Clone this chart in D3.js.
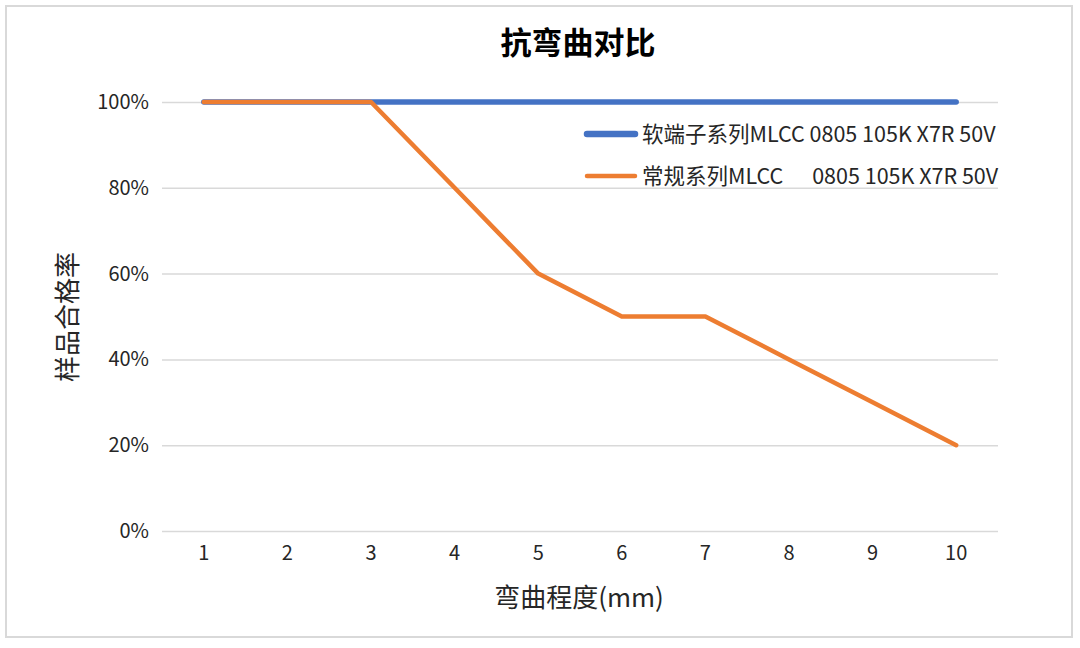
<!DOCTYPE html>
<html>
<head>
<meta charset="utf-8">
<script src="https://cdn.jsdelivr.net/npm/d3@7/dist/d3.min.js"></script>
<style>
    body { margin: 0; background: #fff; }
    text { font-family: "Noto Sans CJK SC", "Noto Sans", sans-serif; fill: #262626; }
</style>
</head>
<body>
<div id="chart"></div>
<script>
// bending depth (mm)
var categories = [1, 2, 3, 4, 5, 6, 7, 8, 9, 10];
var softTermValues = [100, 100, 100, 100, 100, 100, 100, 100, 100, 100];
var normalValues = [100, 100, 100, 80, 60, 50, 50, 40, 30, 20];
var yTicks = [0, 20, 40, 60, 80, 100];
var seriesNames = ["软端子系列MLCC 0805 105K X7R 50V", "常规系列MLCC      0805 105K X7R 50V"];
var seriesColors = ["#4472c4", "#ed7d31"];

function drawChart() {
    "use strict";
    var width = 1080;
    var height = 648;
    var margin = {left: 162, right: 82, top: 102, bottom: 117};

    var svg = d3.select("#chart")
        .append("svg")
        .attr("width", width)
        .attr("height", height);

    // outer frame
    svg.append("rect")
        .attr("x", 6).attr("y", 6)
        .attr("width", 1066).attr("height", 631)
        .attr("fill", "#fff")
        .attr("stroke", "#d9d9d9")
        .attr("stroke-width", 2);

    var x = d3.scaleBand()
        .domain(categories)
        .range([margin.left, width - margin.right])
        .padding(0);
    var y = d3.scaleLinear()
        .domain([0, 100])
        .range([height - margin.bottom, margin.top]);

    // gridlines + y labels
    var yAxis = d3.axisLeft(y)
        .tickValues(yTicks)
        .tickSize(-(width - margin.left - margin.right))
        .tickPadding(13)
        .tickFormat(function(d) { return d + "%"; });
    var gy = svg.append("g")
        .attr("transform", "translate(" + margin.left + ",0)")
        .call(yAxis);
    gy.select(".domain").remove();
    gy.selectAll(".tick line").attr("stroke", "#d9d9d9").attr("stroke-width", 1.5);
    gy.selectAll(".tick text").style("font-size", "20px");

    // x labels
    var xAxis = d3.axisBottom(x).tickSize(0).tickPadding(15);
    var gx = svg.append("g")
        .attr("transform", "translate(0," + (height - margin.bottom) + ")")
        .call(xAxis);
    gx.select(".domain").remove();
    gx.selectAll(".tick text").style("font-size", "20px");

    var line = d3.line()
        .x(function(d, i) { return x(categories[i]) + x.bandwidth() / 2; })
        .y(function(d) { return y(d); });

    svg.append("path")
        .attr("d", line(softTermValues))
        .attr("fill", "none")
        .attr("stroke", seriesColors[0])
        .attr("stroke-width", 5.5)
        .attr("stroke-linecap", "round")
        .attr("stroke-linejoin", "round");
    svg.append("path")
        .attr("d", line(normalValues))
        .attr("fill", "none")
        .attr("stroke", seriesColors[1])
        .attr("stroke-width", 4.5)
        .attr("stroke-linecap", "round")
        .attr("stroke-linejoin", "round");

    // title
    svg.append("text")
        .attr("x", 578).attr("y", 54)
        .attr("text-anchor", "middle")
        .style("font-size", "31px")
        .style("font-weight", "bold")
        .style("fill", "#000")
        .text("抗弯曲对比");

    // axis titles
    svg.append("text")
        .attr("x", 579).attr("y", 607)
        .attr("text-anchor", "middle")
        .style("font-size", "26px")
        .text("弯曲程度(mm)");
    svg.append("text")
        .attr("transform", "translate(77,317) rotate(-90)")
        .attr("text-anchor", "middle")
        .style("font-size", "26px")
        .text("样品合格率");

    // legend
    var legend = svg.selectAll("g.legend")
        .data(seriesNames)
        .enter()
        .append("g")
        .attr("class", "legend")
        .attr("transform", function(d, i) {
            return "translate(587," + (134 + i * 42) + ")";
        });
    legend.append("line")
        .attr("x1", 0).attr("x2", 48)
        .attr("stroke", function(d, i) { return seriesColors[i]; })
        .attr("stroke-width", function(d, i) { return i === 0 ? 6.5 : 4.5; })
        .attr("stroke-linecap", "round");
    legend.append("text")
        .attr("x", 55).attr("dy", "0.35em")
        .attr("xml:space", "preserve")
        .style("white-space", "pre")
        .style("font-size", "21.5px")
        .text(function(d) { return d; });
}

drawChart();
</script>
</body>
</html>
